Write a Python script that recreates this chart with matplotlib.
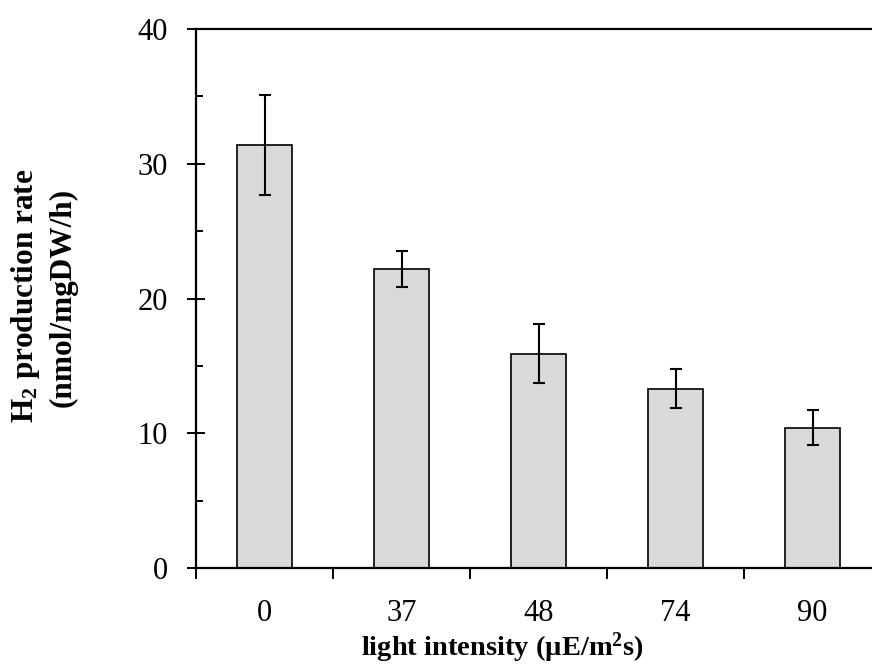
import numpy as np
import matplotlib
matplotlib.use('Agg')
import matplotlib.pyplot as plt
from matplotlib.ticker import MultipleLocator, FixedLocator

# H2 production vs light intensity
intensity = ['0', '37', '48', '74', '90']
h2_rate = [31.4, 22.2, 15.9, 13.3, 10.4]
h2_err = [3.7, 1.35, 2.2, 1.45, 1.3]

plt.rcParams['font.family'] = 'Liberation Serif'
plt.rcParams['mathtext.fontset'] = 'custom'
plt.rcParams['mathtext.rm'] = 'Liberation Serif'
plt.rcParams['mathtext.bf'] = 'Liberation Serif:bold'

fig = plt.figure(figsize=(8.72, 6.67), dpi=100)
W, H = 872, 667
# axis box runs a little past the right edge of the figure
ax = fig.add_axes([196 / W, (H - 568) / H, (881 - 196) / W, (568 - 29) / H])

x = np.arange(len(intensity))
ax.bar(x, h2_rate, width=0.4, color='#d9d9d9', edgecolor='black', linewidth=1.2, zorder=2)
ax.errorbar(x, h2_rate, yerr=h2_err, fmt='none', ecolor='black', elinewidth=1.5,
            capsize=4.5, capthick=1.5, zorder=3)

ax.set_xlim(-0.5, len(intensity) - 0.5)
ax.set_ylim(0, 40)

for s in ['left', 'bottom', 'top', 'right']:
    ax.spines[s].set_linewidth(1.6)

ax.yaxis.set_major_locator(MultipleLocator(10))
ax.yaxis.set_minor_locator(MultipleLocator(5))
ax.tick_params(axis='y', which='major', direction='inout', length=13, width=1.4,
               labelsize=22, pad=14)
ax.tick_params(axis='y', which='minor', direction='in', length=5, width=1.4)

ax.set_xticks(x)
ax.set_xticklabels(intensity)
ax.xaxis.set_minor_locator(FixedLocator(np.arange(-0.5, len(intensity), 1.0)))
ax.tick_params(axis='x', which='major', length=0, labelsize=22, pad=22)
ax.tick_params(axis='x', which='minor', direction='out', length=8, width=1.4)

fig.text(502 / W, 1 - 648 / H, 'light intensity (\u00b5E/m$\\mathbf{^2}$s)', ha='center', va='center',
         fontsize=20.5, fontweight='bold')
fig.text(25 / W, 1 - 296 / H, r'$\mathbf{H_2}$ production rate', ha='center', va='center',
         rotation=90, fontsize=22.5, fontweight='bold')
fig.text(63 / W, 1 - 297 / H, '(nmol/mgDW/h)', ha='center', va='center',
         rotation=90, fontsize=22.5, fontweight='bold')

fig.savefig('out.png', dpi=100)
